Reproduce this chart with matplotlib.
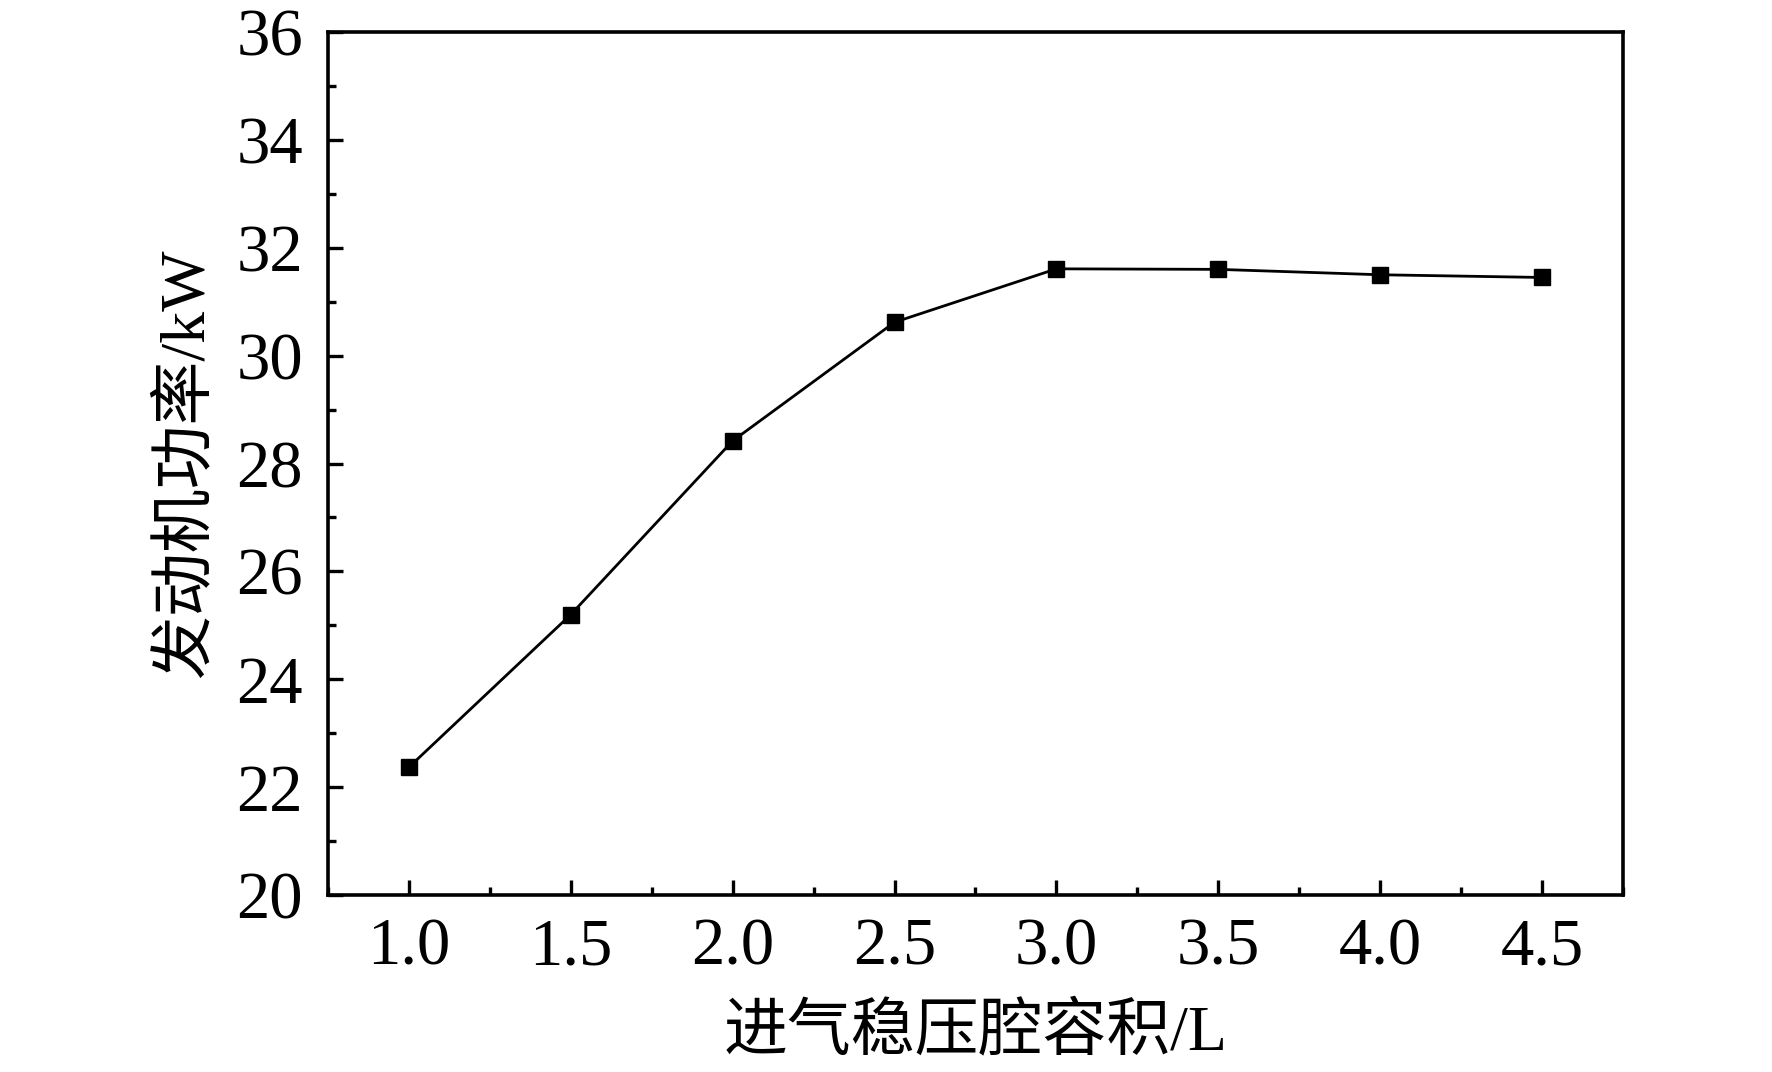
import matplotlib
matplotlib.use("Agg")
import matplotlib.pyplot as plt
from matplotlib.ticker import MultipleLocator

volume = [1.0, 1.5, 2.0, 2.5, 3.0, 3.5, 4.0, 4.5]
power = [22.37, 25.20, 28.42, 30.62, 31.61, 31.60, 31.50, 31.45]
xlabel = "进气稳压腔容积/L"
ylabel = "发动机功率/kW"

plt.rcParams['font.family'] = ['Liberation Serif', 'Noto Sans CJK SC']

fig = plt.figure(figsize=(17.72, 10.72), dpi=100)
ax = fig.add_axes([0.1851, 0.1651, 0.7308, 0.8050])
ax.plot(volume, power, color='black', linewidth=2.0, marker='s', markersize=12,
        markerfacecolor='black', markeredgecolor='black')

ax.set_xlim(0.75, 4.75)
ax.set_ylim(20, 36)
ax.xaxis.set_major_locator(MultipleLocator(0.5))
ax.xaxis.set_minor_locator(MultipleLocator(0.25))
ax.yaxis.set_major_locator(MultipleLocator(2))
ax.yaxis.set_minor_locator(MultipleLocator(1))
ax.xaxis.set_major_formatter(matplotlib.ticker.FormatStrFormatter('%.1f'))

for s in ax.spines.values():
    s.set_linewidth(2.6)
ax.tick_params(which='major', direction='in', length=11, width=2.4, labelsize=48)
ax.tick_params(which='minor', direction='in', length=6, width=2.4)
ax.tick_params(axis='x', which='major', pad=16)
ax.tick_params(axis='y', which='major', pad=18)
ax.tick_params(top=False, right=False, which='both')

ax.set_xlabel(xlabel, fontsize=46, labelpad=18)
ax.set_ylabel(ylabel, fontsize=46, labelpad=14)

fig.savefig("out.png", dpi=100)
